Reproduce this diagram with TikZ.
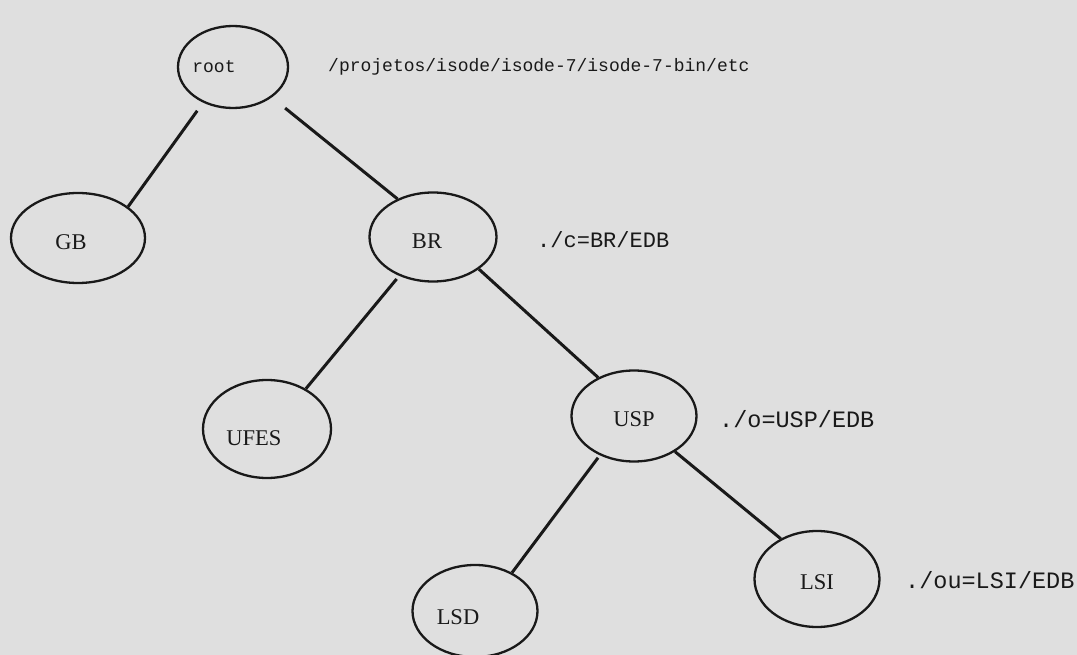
\documentclass[tikz,border=0pt]{standalone}
\usepackage{fontspec}
\setmainfont{Liberation Serif}
\newfontfamily\monof{Liberation Mono}
\usetikzlibrary{shapes.geometric}
\definecolor{paper}{RGB}{223,223,223}
\definecolor{ink}{RGB}{25,25,25}
\begin{document}
\begin{tikzpicture}[x=1pt,y=-1pt,
  ent/.style={ellipse, draw=ink, line width=2.3pt, inner sep=0pt},
  nametext/.style={text=ink, font=\fontsize{22.5}{25}\selectfont},
  monotext/.style={font=\monof\fontsize{22}{26}\selectfont},
  link/.style={draw=ink, line width=3pt},
  dnlabel/.style={anchor=base west, text=ink, inner sep=0pt, monotext}]
\fill[paper] (0,0) rectangle (1077,655);
\useasboundingbox (0,0) rectangle (1077,655);

\node[ent, minimum width=110pt, minimum height=82pt,
  label={[text=ink, font=\monof\fontsize{18}{21}\selectfont, xshift=-19pt]center:root}] (root) at (233,67) {};
\node[ent, minimum width=134pt, minimum height=90pt,
  label={[nametext, xshift=-7pt, yshift=-4pt]center:GB}] (GB) at (78,238) {};
\node[ent, minimum width=127pt, minimum height=89pt,
  label={[nametext, xshift=-6pt, yshift=-4pt]center:BR}] (BR) at (433,237) {};
\node[ent, minimum width=128pt, minimum height=98pt,
  label={[nametext, xshift=-13pt, yshift=-9pt]center:UFES}] (UFES) at (267,429) {};
\node[ent, minimum width=125pt, minimum height=91pt,
  label={[nametext, yshift=-3pt]center:USP}] (USP) at (634,416) {};
\node[ent, minimum width=125pt, minimum height=92pt,
  label={[nametext, xshift=-17pt, yshift=-6pt]center:LSD}] (LSD) at (475,611) {};
\node[ent, minimum width=125pt, minimum height=96pt,
  label={[nametext, yshift=-3pt]center:LSI}] (LSI) at (817,579) {};

\draw[link, shorten <=10pt] (root.230) -- (GB.32);
\draw[link, shorten <=17pt] (root.322) -- (BR.133);
\draw[link, shorten <=4pt] (BR.229) -- (UFES.46);
\draw[link] (BR.325) -- (USP.133);
\draw[link, shorten <=3pt] (USP.229) -- (LSD.46);
\draw[link] (USP.319) -- (LSI.132);

\node[dnlabel, font=\monof\fontsize{18}{21}\selectfont] (lroot) at (328,72) {/projetos/isode/isode-7/isode-7-bin/etc};
\node[dnlabel] (lbr) at (537,248) {./c=BR/EDB};
\node[dnlabel, font=\monof\fontsize{23.5}{27}\selectfont] (lusp) at (719,427) {./o=USP/EDB};
\node[dnlabel, font=\monof\fontsize{23.5}{27}\selectfont] (llsi) at (905,588) {./ou=LSI/EDB};
\end{tikzpicture}
\end{document}
